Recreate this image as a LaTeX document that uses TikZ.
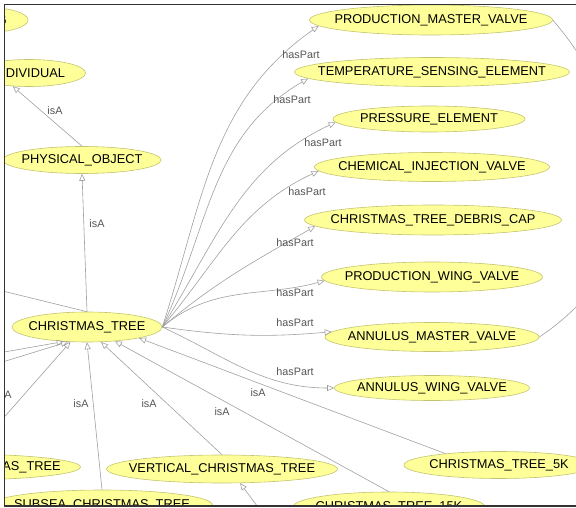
\documentclass[tikz,border=0pt]{standalone}
\usepackage{fontspec}
\setmainfont{Liberation Sans}
\usetikzlibrary{arrows.meta,shapes.geometric}
\definecolor{clsfill}{RGB}{255,255,153}
\definecolor{clsline}{RGB}{196,196,112}
\definecolor{edgeline}{RGB}{160,160,160}
\definecolor{reltext}{RGB}{85,85,85}
\newcommand{\cname}[1]{\makebox[0pt]{#1}}
\tikzset{
  cls/.style={ellipse,draw=clsline,fill=clsfill,line width=.6pt,inner sep=0pt,
    minimum height=28pt,minimum width=#1,font=\fontsize{12.8}{14}\selectfont},
  rel/.style={font=\fontsize{10.8}{12}\selectfont,text=reltext,inner sep=0pt},
  lnk/.style={draw=edgeline,line width=.6pt},
  isa/.style={lnk,->},
}

\begin{document}
\begin{tikzpicture}[x=1pt,y=1pt,>={Triangle[open,length=7pt,width=6pt]}]
\useasboundingbox (0,0) rectangle (576,-508);
\begin{scope}
\clip (5,-5) rectangle (576,-505.5);
% classes
\node[cls=82,minimum height=25pt] (thing) at (-13,-20) {\cname{THING}};
\node[cls=113,minimum height=27pt] (individual) at (29,-73) {\cname{INDIVIDUAL}};
\node[cls=158,minimum height=27pt] (physobj) at (82,-160) {\cname{PHYSICAL\_OBJECT}};
\node[cls=150,minimum height=30pt] (xtree) at (87,-327) {\cname{CHRISTMAS\_TREE}};
\node[cls=243,minimum height=30pt] (pmv) at (431,-20) {\cname{PRODUCTION\_MASTER\_VALVE}};
\node[cls=275,minimum height=29pt] (tse) at (432,-72) {\cname{TEMPERATURE\_SENSING\_ELEMENT}};
\node[cls=192,minimum height=26pt] (pe) at (429,-119) {\cname{PRESSURE\_ELEMENT}};
\node[cls=235,minimum height=29pt] (civ) at (432,-167) {\cname{CHEMICAL\_INJECTION\_VALVE}};
\node[cls=257,minimum height=30pt] (dcap) at (433,-220) {\cname{CHRISTMAS\_TREE\_DEBRIS\_CAP}};
\node[cls=221,minimum height=30pt] (pwv) at (432,-277) {\cname{PRODUCTION\_WING\_VALVE}};
\node[cls=214,minimum height=29pt] (amv) at (432,-337) {\cname{ANNULUS\_MASTER\_VALVE}};
\node[cls=195,minimum height=25pt] (awv) at (432,-388) {\cname{ANNULUS\_WING\_VALVE}};
\node[cls=190,minimum height=27pt] (xt5k) at (499,-465) {\cname{CHRISTMAS\_TREE\_5K}};
\node[cls=245,minimum height=26pt] (hxt) at (-42,-467) {\cname{HORIZONTAL\_CHRISTMAS\_TREE}};
\node[cls=231] (vxt) at (222,-469) {\cname{VERTICAL\_CHRISTMAS\_TREE}};
\node[cls=192,minimum height=30pt] (xt15k) at (389,-507) {\cname{CHRISTMAS\_TREE\_15K}};
\node[cls=221,minimum height=30pt] (sxt) at (102,-505) {\cname{SUBSEA\_CHRISTMAS\_TREE}};
% ends outside the view
\coordinate (w1) at (-30,-283);
\coordinate (w2) at (-30,-358);
\coordinate (w3) at (-30,-372);
\coordinate (w4) at (-30,-456);
\coordinate (s1) at (275,-530);
% isA
\draw[isa] (physobj.north) -- (individual.219);
\draw[isa] (xtree.north) -- (physobj.south);
\draw[lnk] (xtree.north) -- (w1);
\draw[isa] (w2) -- (xtree.212);
\draw[isa] (w3) -- (xtree.218);
\draw[isa] (w4) -- (xtree.222);
\draw[isa] (sxt.north) -- (xtree.south);
\draw[isa] (vxt.north) -- (xtree.313);
\draw[isa] (xt15k.north) -- (xtree.333);
\draw[isa] (xt5k.168) -- (xtree.348);
\draw[isa] (s1) -- (vxt.322);
\draw[lnk] (pmv.east) .. controls (630,-110) and (670,-250) .. (amv.east);
% hasPart
\foreach \t/\o/\i/\a in {pmv/72/215/183,tse/65/210/183,pe/58/205/182,civ/50/205/182,
  dcap/40/210/183,pwv/40/195/182,amv/-8/185/177,awv/-25/180/180}
  \draw[isa] (xtree.east) to[out=\o,in=\i] (\t.\a);
\foreach \n/\x/\y in {1/301/-55,2/292/-100,3/323/-143,4/307/-192,5/295/-243,6/295/-293,7/295/-323,8/295/-372}
  \node[rel] (hp\n) at (\x,\y) {hasPart};
\foreach \n/\x/\y in {1/55/-111,2/97/-224,3/4/-395,4/81/-404,5/149/-404,6/222/-412,7/258/-393}
  \node[rel] (ia\n) at (\x,\y) {isA};
\end{scope}
\draw[line width=1.5pt,black!80] (576,-4.5) -- (4.5,-4.5) -- (4.5,-506) -- (576,-506);
\end{tikzpicture}
\end{document}
